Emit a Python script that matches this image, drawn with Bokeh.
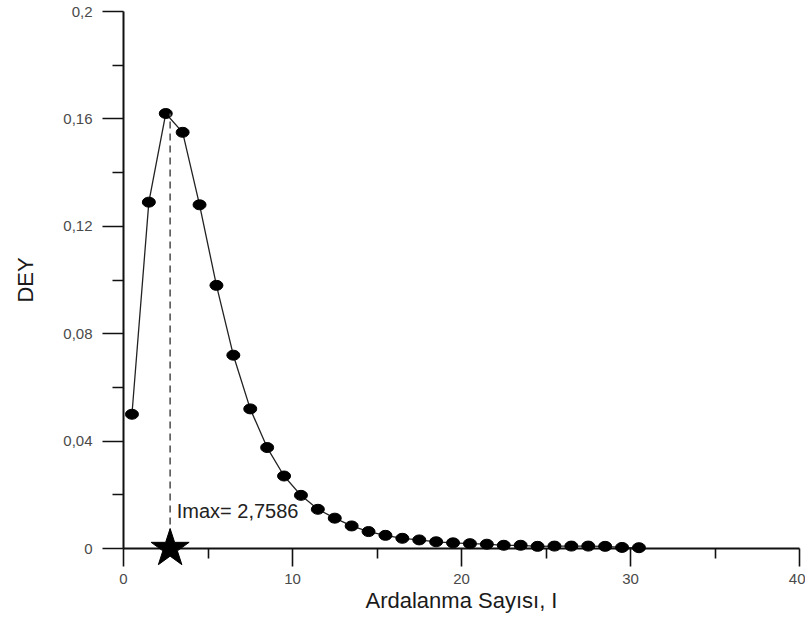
from bokeh.plotting import figure
from bokeh.models import Range1d, FixedTicker, CustomJSTickFormatter, Label
from bokeh.embed import file_html
from bokeh.resources import INLINE

# Run count I and the corresponding DEY value
run_count = [0.5, 1.5, 2.5, 3.5, 4.5, 5.5, 6.5, 7.5, 8.5, 9.5,
             10.5, 11.5, 12.5, 13.5, 14.5, 15.5, 16.5, 17.5, 18.5, 19.5,
             20.5, 21.5, 22.5, 23.5, 24.5, 25.5, 26.5, 27.5, 28.5, 29.5, 30.5]
dey = [0.050, 0.129, 0.162, 0.155, 0.128, 0.098, 0.072, 0.052, 0.0376, 0.027,
       0.0198, 0.0146, 0.0113, 0.0084, 0.0063, 0.0049, 0.0038, 0.0032, 0.0025, 0.0021,
       0.0018, 0.0016, 0.0012, 0.0012, 0.0008, 0.0009, 0.0009, 0.0009, 0.0008, 0.0004, 0.0003]

imax = 2.7586

x_ticks = [0, 10, 20, 30, 40]
x_minor = [5, 15, 25, 35]
x_tick_labels = ["0", "10", "20", "30", "40"]
y_ticks = [0, 0.04, 0.08, 0.12, 0.16, 0.2]
y_minor = [0.02, 0.06, 0.1, 0.14, 0.18]
y_tick_labels = ["0", "0,04", "0,08", "0,12", "0,16", "0,2"]

FONT = "Liberation Sans"

p = figure(width=805, height=620,
           x_range=Range1d(0, 40), y_range=Range1d(0, 0.2),
           output_backend="svg", toolbar_location=None,
           min_border_left=123, min_border_right=6,
           min_border_top=11, min_border_bottom=72)
p.grid.visible = False
p.outline_line_color = None
p.background_fill_color = "white"
p.border_fill_color = "white"

label_js = """
const i = tick_vals.findIndex(t => Math.abs(t - tick) < 1e-9);
return i >= 0 ? tick_texts[i] : "";
"""

xa = p.xaxis[0]
ya = p.yaxis[0]
xa.ticker = FixedTicker(ticks=x_ticks, minor_ticks=x_minor)
ya.ticker = FixedTicker(ticks=y_ticks, minor_ticks=y_minor)
xa.formatter = CustomJSTickFormatter(args=dict(tick_vals=x_ticks, tick_texts=x_tick_labels), code=label_js)
ya.formatter = CustomJSTickFormatter(args=dict(tick_vals=y_ticks, tick_texts=y_tick_labels), code=label_js)

for ax in (xa, ya):
    ax.axis_line_width = 2
    ax.axis_line_color = "#111111"
    ax.major_tick_line_width = 1.6
    ax.major_tick_line_color = "#111111"
    ax.minor_tick_line_width = 1.6
    ax.minor_tick_line_color = "#111111"
    ax.major_tick_in = 0
    ax.minor_tick_in = 0
    ax.major_label_text_font = FONT
    ax.major_label_text_font_size = "15px"
    ax.major_label_text_color = "#4a4a4a"
    ax.axis_label_text_font = FONT
    ax.axis_label_text_font_size = "22px"
    ax.axis_label_text_font_style = "normal"
    ax.axis_label_text_color = "#1a1a1a"

xa.major_tick_out = 18
xa.minor_tick_out = 10
xa.major_label_standoff = 7
xa.axis_label = "Ardalanma Sayısı, I"
xa.axis_label_standoff = 1

ya.major_tick_out = 21
ya.minor_tick_out = 11
ya.major_label_standoff = 10
ya.axis_label = "DEY"
ya.axis_label_standoff = 22

# connecting curve and data points
p.line(run_count, dey, line_color="#222222", line_width=1.3, level="overlay")
p.ellipse(x=run_count, y=dey, width=13, height=10,
          width_units="screen", height_units="screen",
          fill_color="black", line_color="black", level="overlay")

# Imax marker: dashed drop line and star on the axis
peak = max(dey)
p.line([imax, imax], [0, peak], line_color="#555555", line_width=1.6,
       line_dash="7 5", level="overlay")
p.scatter([imax], [0], marker="star", size=40, fill_color="black",
          line_color="black", level="overlay")

p.add_layout(Label(x=3.15, y=0.0141, text="Imax= " + str(imax).replace(".", ","),
                   text_font=FONT, text_font_size="20px", text_color="#222222",
                   text_baseline="alphabetic", text_align="left"))

open("out.html", "w").write(file_html(p, INLINE))
